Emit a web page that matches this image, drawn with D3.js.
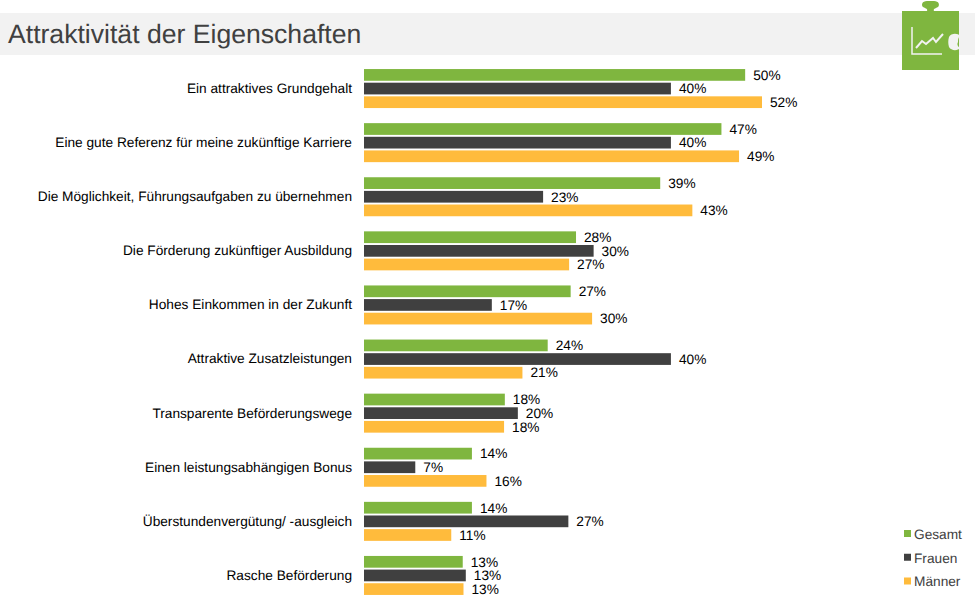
<!DOCTYPE html>
<html>
<head>
<meta charset="utf-8">
<script src="https://cdn.jsdelivr.net/npm/d3@7"></script>
<style>
  html, body { margin: 0; padding: 0; background: #fff; }
  svg { display: block; }
  text { font-family: "Liberation Sans", Arial, sans-serif; text-rendering: geometricPrecision; }
</style>
</head>
<body>
<div id="my_dataviz"></div>
<script>
var categories = [
    "Ein attraktives Grundgehalt",
    "Eine gute Referenz für meine zukünftige Karriere",
    "Die Möglichkeit, Führungsaufgaben zu übernehmen",
    "Die Förderung zukünftiger Ausbildung",
    "Hohes Einkommen in der Zukunft",
    "Attraktive Zusatzleistungen",
    "Transparente Beförderungswege",
    "Einen leistungsabhängigen Bonus",
    "Überstundenvergütung/ -ausgleich",
    "Rasche Beförderung"
];
var seriesNames = ["Gesamt", "Frauen", "Männer"];
var gesamt = [49.8, 46.7, 38.7, 27.7, 27.0, 24.0, 18.4, 14.1, 14.1, 12.9];
var frauen = [40.1, 40.1, 23.4, 30.0, 16.7, 40.1, 20.1, 6.7, 26.7, 13.3];
var maenner = [52.0, 49.0, 42.9, 26.8, 29.8, 20.7, 18.3, 16.0, 11.4, 13.0];
var seriesValues = [gesamt, frauen, maenner];
var colors = ["#7fb63f", "#404040", "#ffbb3c"];

var width = 975;
var height = 598;

var svg = d3.select("#my_dataviz").append("svg").attr("width", width).attr("height", height);

// title band
svg.append("rect").attr("x", 0).attr("y", 13).attr("width", width).attr("height", 42).attr("fill", "#f2f2f2");
svg.append("text").attr("x", 8).attr("y", 43).attr("font-size", 26.6).attr("fill", "#404040")
    .text("Attraktivität der Eigenschaften");

// puzzle icon
var icon = svg.append("g").attr("class", "icon");
icon.append("path").attr("fill", "#7fb63f")
    .attr("d", "M902,11 H927 C928,9 926,8.5 923,7 C921,5 922,1 927,1 H934 C939,1 940,5 938,7 C935,8.5 933,9 934,11 H959 V70 H902 Z");
icon.append("path").attr("fill", "#f2f2f2")
    .attr("d", "M960,36 C958,33 951,33 949,37 C948,40 948,44 949,47 C951,51 958,51 960,48 C957,46 957,44 958,42 C958,40 958,38 960,36 Z");
icon.append("path").attr("fill", "none").attr("stroke", "#f2f2f2").attr("stroke-width", 1.5)
    .attr("d", "M912,27 V54 H942");
icon.append("path").attr("fill", "none").attr("stroke", "#f2f2f2").attr("stroke-width", 2)
    .attr("d", "M916,48 L922,41 L926,44 L933,38 L936,42 L943,34");

// scales
var x = d3.scaleLinear().domain([0, 52]).range([364, 762]);
var y0 = d3.scaleBand().domain(categories).range([61.5, 602.5]);
var y1 = d3.scaleBand().domain(seriesNames).range([0, 39]).paddingInner(0.14);
var groupOffset = (y0.bandwidth() - 39) / 2;

// category labels
var axis = d3.axisLeft(y0).tickSize(0).tickPadding(12);
var axisG = svg.append("g").attr("transform", "translate(364,0)").call(axis);
axisG.select(".domain").remove();
axisG.selectAll("text").attr("font-size", 13.7).attr("fill", "#000")
    .style("font-family", '"Liberation Sans", Arial, sans-serif');

// bars + value labels
seriesNames.forEach(function(name, s){
    var values = seriesValues[s];
    var group = svg.append("g").attr("class", "series");

    group.selectAll("rect").data(values).enter().append("rect")
        .attr("x", x(0))
        .attr("y", function(d, i){ return y0(categories[i]) + groupOffset + y1(name); })
        .attr("width", function(d){ return x(d) - x(0); })
        .attr("height", y1.bandwidth())
        .attr("fill", colors[s]);

    group.selectAll("text").data(values).enter().append("text")
        .attr("x", function(d){ return x(d) + 8; })
        .attr("y", function(d, i){ return y0(categories[i]) + groupOffset + y1(name) + y1.bandwidth() / 2; })
        .attr("dy", "0.35em")
        .attr("font-size", 13.7)
        .attr("fill", "#000")
        .text(function(d){ return Math.round(d) + "%"; });
});

// legend
var legendY = d3.scalePoint().domain(seriesNames).range([534, 581.5]);
var legend = svg.append("g").attr("class", "legend");
seriesNames.forEach(function(name, s){
    legend.append("rect").attr("x", 904).attr("y", legendY(name) - 4).attr("width", 7).attr("height", 7).attr("fill", colors[s]);
    legend.append("text").attr("x", 914).attr("y", legendY(name)).attr("dy", "0.35em")
        .attr("font-size", 13.7).attr("fill", "#404040").text(name);
});
</script>
</body>
</html>
